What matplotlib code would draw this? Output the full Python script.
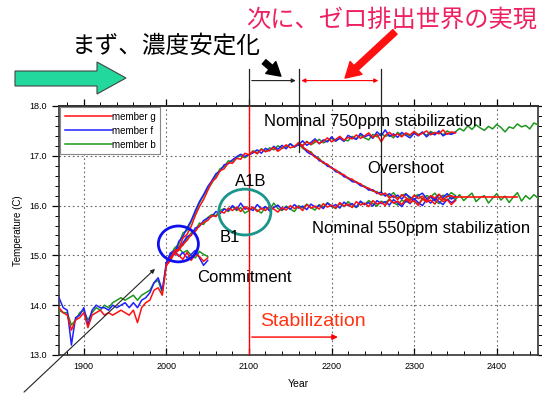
import matplotlib
matplotlib.use('Agg')
import matplotlib.pyplot as plt
from matplotlib.patches import Ellipse, Polygon, FancyArrowPatch
from matplotlib.ticker import MultipleLocator, FormatStrFormatter

plt.rcParams['font.family'] = ['Liberation Sans', 'Noto Sans CJK JP']

# 20th century run (1870-2000, every 5 years)
hist_years = list(range(1870, 2001, 5))
hist_g = [13.95, 13.85, 13.8, 13.5, 13.7, 13.75, 13.85, 13.55, 13.8, 13.85, 13.9, 13.8, 13.85, 13.8,
          13.85, 13.9, 13.85, 13.8, 13.9, 13.65, 13.95, 14.05, 14.1, 14.3, 14.35, 14.2, 14.8]
hist_f = [14.15, 13.95, 13.9, 13.2, 13.75, 13.8, 13.95, 13.6, 13.9, 14.0, 13.95, 13.95, 13.9, 14.0,
          13.95, 14.0, 14.05, 13.95, 14.05, 13.95, 14.1, 14.15, 14.25, 14.45, 14.55, 14.3, 14.85]
hist_b = [13.9, 13.85, 13.85, 13.6, 13.7, 13.85, 13.9, 13.7, 13.85, 13.95, 13.9, 14.0, 13.95, 14.05,
          14.1, 14.15, 14.1, 14.15, 14.2, 14.1, 14.2, 14.25, 14.3, 14.45, 14.5, 14.25, 14.85]

# 21st century scenarios
scen_years = list(range(2000, 2101, 5))
a1b_g = [14.8, 14.92, 15.1, 15.12, 15.35, 15.42, 15.58, 15.8, 15.98, 16.12, 16.3, 16.48, 16.55,
         16.7, 16.74, 16.86, 16.85, 16.95, 16.93, 17.05, 17.02]
a1b_f = [14.85, 15.05, 15.02, 15.28, 15.38, 15.55, 15.7, 15.9, 16.08, 16.22, 16.38, 16.5, 16.64,
         16.69, 16.82, 16.84, 16.92, 16.98, 17.03, 16.99, 17.02]
a1b_b = [14.85, 15.0, 15.15, 15.22, 15.45, 15.5, 15.68, 15.85, 16.05, 16.2, 16.33, 16.45, 16.6,
         16.74, 16.78, 16.9, 16.88, 16.97, 17.0, 16.96, 17.02]
b1_g = [14.8, 14.9, 15.05, 15.1, 15.22, 15.3, 15.42, 15.48, 15.6, 15.66, 15.7, 15.8, 15.78, 15.88,
        15.85, 15.95, 15.9, 15.97, 15.88, 15.98, 15.92]
b1_f = [14.85, 15.0, 15.02, 15.15, 15.25, 15.38, 15.4, 15.55, 15.58, 15.7, 15.75, 15.78, 15.88,
        15.84, 15.93, 15.9, 16.0, 15.92, 16.05, 15.93, 15.95]
b1_b = [14.85, 14.95, 15.1, 15.18, 15.2, 15.35, 15.45, 15.5, 15.65, 15.62, 15.76, 15.82, 15.8, 15.9,
        15.94, 15.88, 15.98, 15.9, 15.96, 15.85, 15.9]

# constant composition commitment
commit_years = list(range(2000, 2051, 5))
commit_g = [14.8, 14.95, 15.05, 15.0, 14.92, 15.06, 14.9, 15.02, 14.98, 14.88, 14.95]
commit_f = [14.85, 15.05, 15.1, 14.98, 15.06, 14.95, 15.02, 15.1, 14.95, 14.8, 14.9]
commit_b = [14.85, 15.0, 15.12, 15.15, 15.05, 15.1, 15.0, 14.95, 15.08, 15.02, 14.98]

# stabilization runs (member b runs on to 2450)
stab_years = list(range(2100, 2351, 5))
stab_years_b = list(range(2100, 2451, 5))
s750_g = [17.02, 17.09, 17.04, 17.13, 17.08, 17.11, 17.17, 17.09, 17.15, 17.22, 17.16, 17.19, 17.26,
          17.2, 17.28, 17.23, 17.31, 17.25, 17.29, 17.36, 17.28, 17.33, 17.39, 17.31, 17.37, 17.34,
          17.42, 17.35, 17.4, 17.46, 17.37, 17.43, 17.28, 17.41, 17.47, 17.4, 17.44, 17.38, 17.46,
          17.42, 17.49, 17.41, 17.45, 17.5, 17.42, 17.47, 17.44, 17.52, 17.43, 17.48, 17.46]
s750_f = [17.02, 17.06, 17.12, 17.05, 17.15, 17.1, 17.19, 17.13, 17.21, 17.14, 17.24, 17.18, 17.22,
          17.3, 17.21, 17.27, 17.34, 17.24, 17.32, 17.28, 17.38, 17.3, 17.35, 17.29, 17.41, 17.36,
          17.33, 17.45, 17.38, 17.42, 17.35, 17.48, 17.4, 17.52, 17.39, 17.44, 17.37, 17.47, 17.41,
          17.36, 17.45, 17.4, 17.48, 17.38, 17.46, 17.42, 17.5, 17.4, 17.45, 17.43, 17.47]
s750_b = [17.02, 17.1, 17.06, 17.14, 17.09, 17.16, 17.12, 17.2, 17.15, 17.18, 17.24, 17.17, 17.25,
          17.21, 17.29, 17.22, 17.27, 17.33, 17.26, 17.3, 17.35, 17.29, 17.37, 17.32, 17.3, 17.39,
          17.34, 17.41, 17.36, 17.32, 17.43, 17.38, 17.45, 17.39, 17.42, 17.36, 17.47, 17.41, 17.44,
          17.4, 17.48, 17.43, 17.46, 17.41, 17.49, 17.44, 17.47, 17.42, 17.5, 17.45, 17.48,
          17.55, 17.5, 17.6, 17.53, 17.62, 17.56, 17.51, 17.59, 17.54, 17.63, 17.57, 17.48, 17.58,
          17.55, 17.64, 17.58, 17.61, 17.54, 17.66, 17.62]
s550_g = [15.92, 15.97, 15.88, 15.95, 15.9, 15.99, 15.93, 15.87, 15.96, 15.91, 16.0, 15.94, 15.98,
          15.9, 16.02, 15.95, 15.99, 15.93, 16.04, 15.97, 16.01, 15.95, 16.06, 15.99, 16.03, 15.96,
          16.08, 16.01, 16.05, 15.98, 16.1, 16.03, 16.07, 16.0, 16.12, 16.05, 16.09, 16.02, 16.13,
          16.06, 16.1, 16.0, 16.14, 16.07, 16.11, 16.03, 16.15, 16.08, 16.12, 16.02, 16.1]
s550_f = [15.95, 15.9, 16.02, 15.93, 15.98, 15.89, 15.96, 16.01, 15.92, 15.97, 15.93, 16.02, 15.95,
          15.99, 15.92, 16.03, 15.97, 16.0, 15.94, 16.05, 15.98, 16.02, 15.95, 16.07, 16.0, 16.04,
          15.97, 16.09, 16.02, 16.06, 15.99, 16.1, 16.04, 16.08, 16.01, 16.12, 16.05, 15.98, 16.1,
          16.04, 16.14, 16.06, 16.0, 16.12, 16.05, 16.15, 16.08, 16.02, 16.13, 16.06, 16.11]
s550_b = [15.9, 15.96, 15.91, 15.85, 15.97, 15.92, 16.05, 15.94, 15.9, 15.99, 15.93, 15.88, 16.0,
          15.95, 16.03, 15.96, 15.91, 16.02, 15.97, 16.06, 15.99, 15.94, 16.04, 15.98, 16.08, 16.01,
          15.96, 16.07, 16.02, 16.1, 16.04, 15.99, 16.09, 16.05, 16.13, 16.06, 16.01, 16.11, 16.07,
          16.15, 16.08, 16.03, 16.13, 16.09, 16.17, 16.1, 16.04, 16.14, 16.1, 16.18, 16.12,
          16.22, 16.1, 16.18, 16.25, 16.08, 16.16, 16.2, 16.05, 16.15, 16.24, 16.11, 16.19, 16.06,
          16.17, 16.26, 16.09, 16.2, 16.13, 16.22, 16.15]

# overshoot: leaves the 750 path in 2160
over_years = list(range(2160, 2351, 5))
over_g = [17.26, 17.17, 17.12, 17.06, 16.97, 16.93, 16.86, 16.83, 16.75, 16.72, 16.64, 16.62, 16.55,
          16.53, 16.46, 16.44, 16.37, 16.35, 16.3, 16.26, 16.22, 16.25, 16.15, 16.2, 16.12, 16.22,
          16.16, 16.1, 16.21, 16.14, 16.19, 16.08, 16.2, 16.15, 16.23, 16.12, 16.18, 16.2, 16.16]
over_f = [17.22, 17.19, 17.08, 17.03, 17.0, 16.9, 16.88, 16.79, 16.77, 16.68, 16.66, 16.58, 16.56,
          16.48, 16.47, 16.4, 16.38, 16.31, 16.32, 16.24, 16.27, 16.19, 16.24, 16.16, 16.21, 16.13,
          16.23, 16.17, 16.11, 16.2, 16.25, 16.14, 16.18, 16.1, 16.22, 16.16, 16.24, 16.13, 16.19]
over_b = [17.25, 17.15, 17.1, 17.08, 16.98, 16.95, 16.85, 16.82, 16.76, 16.7, 16.67, 16.6, 16.54,
          16.5, 16.48, 16.41, 16.39, 16.33, 16.29, 16.28, 16.21, 16.24, 16.18, 16.26, 16.15, 16.2,
          16.24, 16.13, 16.19, 16.22, 16.12, 16.2, 16.17, 16.25, 16.14, 16.21, 16.18, 16.26, 16.2]
level_years = [2350, 2425]
level_temp = [16.18, 16.18]

colors = {'g': '#ff1010', 'f': '#2020ff', 'b': '#1e961e'}
labels = {'g': 'member g', 'f': 'member f', 'b': 'member b'}
runs = {
    'g': [(hist_years, hist_g), (scen_years, a1b_g), (scen_years, b1_g), (commit_years, commit_g),
          (stab_years, s750_g), (stab_years, s550_g), (over_years, over_g)],
    'f': [(hist_years, hist_f), (scen_years, a1b_f), (scen_years, b1_f), (commit_years, commit_f),
          (stab_years, s750_f), (stab_years, s550_f), (over_years, over_f)],
    'b': [(hist_years, hist_b), (scen_years, a1b_b), (scen_years, b1_b), (commit_years, commit_b),
          (stab_years_b, s750_b), (stab_years_b, s550_b), (over_years, over_b)],
}

fig = plt.figure(figsize=(5.42, 3.94), dpi=100)
ax = fig.add_axes([0.1089, 0.099, 0.8838, 0.632])

handles = {}
for z, m in enumerate(['b', 'f', 'g']):
    for yrs, vals in runs[m]:
        line, = ax.plot(yrs, vals, color=colors[m], lw=1.1, zorder=3 + z)
    handles[m] = line
ax.plot(level_years, level_temp, color=colors['g'], lw=1.2, zorder=6)

ax.set_xlim(1870, 2450)
ax.set_ylim(13, 18)
ax.xaxis.set_major_locator(MultipleLocator(100))
ax.xaxis.set_minor_locator(MultipleLocator(20))
ax.yaxis.set_major_locator(MultipleLocator(1))
ax.yaxis.set_minor_locator(MultipleLocator(0.2))
ax.yaxis.set_major_formatter(FormatStrFormatter('%.1f'))
ax.tick_params(axis='x', which='both', direction='in', top=False, labelsize=6.5, pad=5)
ax.tick_params(axis='y', which='both', direction='out', right=True, labelsize=6.5)
ax.tick_params(which='major', length=5, width=0.9)
ax.tick_params(which='minor', length=3, width=0.7)
top = ax.secondary_xaxis('top')
top.xaxis.set_major_locator(MultipleLocator(100))
top.xaxis.set_minor_locator(MultipleLocator(20))
top.tick_params(which='both', direction='out', labeltop=False)
top.tick_params(which='major', length=5, width=0.9)
top.tick_params(which='minor', length=3, width=0.7)
top.spines['top'].set_linewidth(1.2)
for s in ax.spines.values():
    s.set_linewidth(1.2)
    s.set_color('#333333')
ax.grid(True, which='major', linestyle=(0, (1.5, 2.5)), color='#666666', lw=0.8)
ax.set_xlabel('Year', fontsize=7.5, labelpad=6)
ax.set_ylabel('Temperature (C)', fontsize=7, labelpad=5)

leg = ax.legend([handles[m] for m in ['g', 'f', 'b']], [labels[m] for m in ['g', 'f', 'b']],
                loc='upper left', bbox_to_anchor=(0, 1), borderaxespad=0.15, fontsize=7,
                handlelength=4.8, handletextpad=0.0, labelspacing=0.4, fancybox=False,
                framealpha=1, edgecolor='#888888', borderpad=0.45)
leg.get_frame().set_linewidth(0.8)
leg.set_zorder(9)

# marker lines for 2100, 2160 and 2260
ax.plot([2100, 2100], [13, 18], color='red', lw=1.0, zorder=7)
ax.plot([2100, 2100], [18, 18.74], color='#222222', lw=0.9, clip_on=False)
ax.plot([2160, 2160], [17.08, 18.74], color='#222222', lw=0.9, clip_on=False, zorder=7)
ax.plot([2260, 2260], [16.28, 18.74], color='#222222', lw=0.9, clip_on=False, zorder=7)
ax.annotate('', xy=(2160, 18.51), xytext=(2100, 18.51), annotation_clip=False,
            arrowprops=dict(arrowstyle='-|>', color='#222222', lw=0.8, mutation_scale=6))
ax.annotate('', xy=(2260, 18.51), xytext=(2160, 18.51), annotation_clip=False,
            arrowprops=dict(arrowstyle='<|-|>', color='red', lw=0.8, mutation_scale=6))

# highlight circles
ax.add_patch(Ellipse((2014.5, 15.23), 48.5, 0.72, fill=False, color='#1010ee', lw=2, zorder=8))
ax.add_patch(Ellipse((2095, 15.87), 63, 0.92, fill=False, color='#1a958a', lw=2, zorder=8))

# stabilization arrow
ax.annotate('', xy=(2211, 13.36), xytext=(2100, 13.36),
            arrowprops=dict(arrowstyle='-|>', color='red', lw=1.0, mutation_scale=8))

# overlay in pixel units for the text and the big arrows
ov = fig.add_axes([0, 0, 1, 1], zorder=10)
ov.set_xlim(0, 542)
ov.set_ylim(394, 0)
ov.axis('off')
ov.patch.set_alpha(0)

ov.text(72, 46, 'まず、濃度安定化', fontsize=17, va='center', ha='left', color='black')
ov.text(246, 20, '次に、ゼロ排出世界の実現', fontsize=17.5, va='center', ha='left', color='#ee2060')

ov.add_patch(Polygon([(15, 71), (97, 71), (97, 62), (126, 78), (97, 94), (97, 86), (15, 86)],
                     closed=True, facecolor='#22d89c', edgecolor='#444444', lw=0.8))
ov.add_patch(FancyArrowPatch((262, 60), (283, 78), arrowstyle='simple,head_width=1.4,head_length=1.2,tail_width=0.5',
                             mutation_scale=8, color='black'))
ov.add_patch(FancyArrowPatch((397, 30), (343, 80), arrowstyle='simple,head_width=1.4,head_length=1.2,tail_width=0.5',
                             mutation_scale=9, color='#ff1010'))
ov.annotate('', xy=(157, 267), xytext=(22, 394),
            arrowprops=dict(arrowstyle='-|>', color='#222222', lw=0.8, mutation_scale=6))

lab = dict(fontsize=12, va='center', ha='left', color='black')
ov.text(264, 121, 'Nominal 750ppm stabilization', **lab)
ov.text(367, 168, 'Overshoot', **lab)
ov.text(312, 228, 'Nominal 550ppm stabilization', **lab)
ov.text(235, 181, 'A1B', **lab)
ov.text(220, 237, 'B1', **lab)
ov.text(197, 277, 'Commitment', **lab)
ov.text(260, 322, 'Stabilization', fontsize=14, va='center', ha='left', color='#ff3311')

fig.savefig('out.png', dpi=100)
